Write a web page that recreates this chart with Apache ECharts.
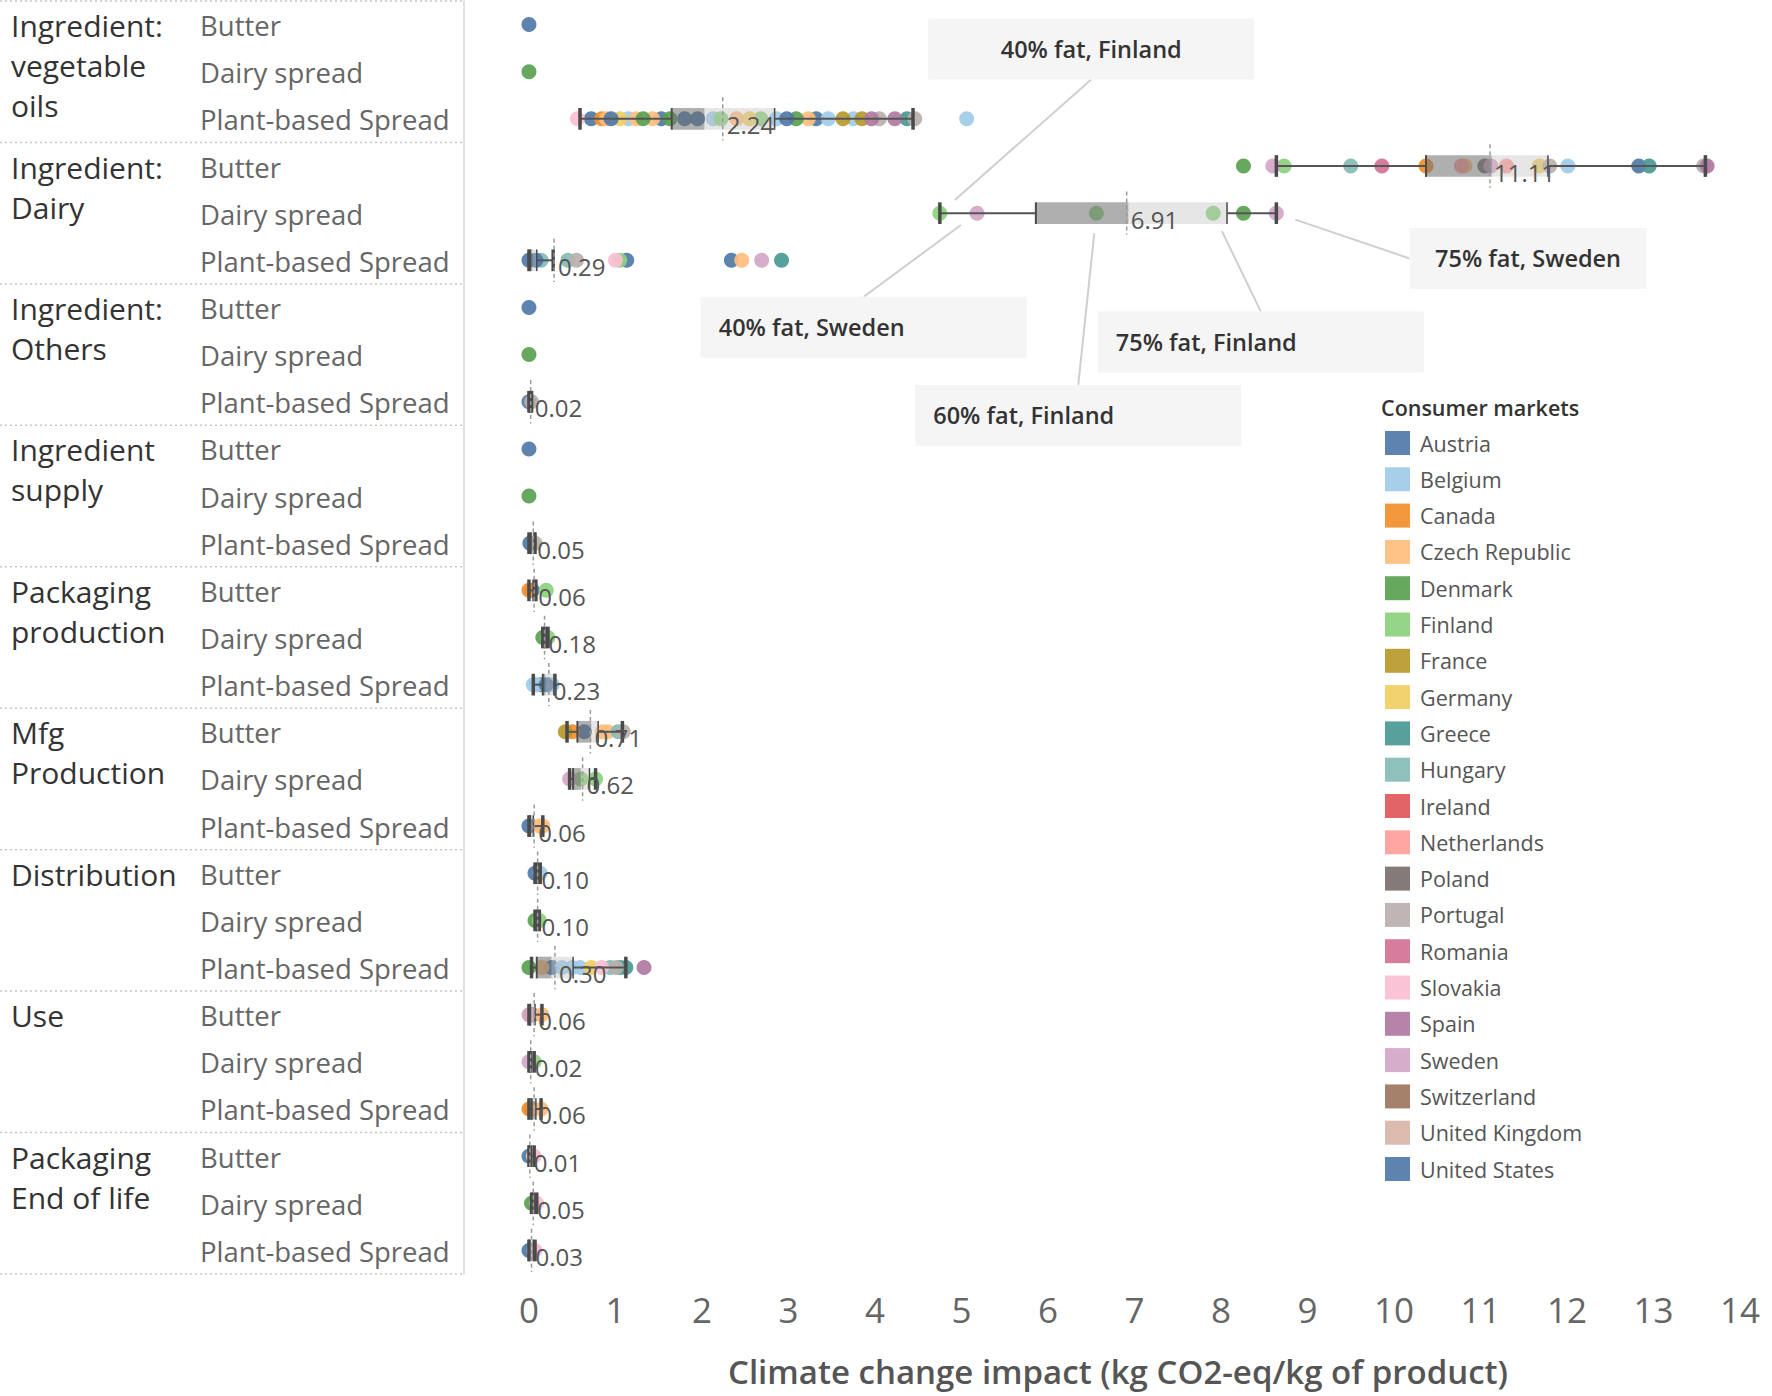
<!DOCTYPE html>
<html>
<head>
<meta charset="utf-8">
<script src="https://cdn.jsdelivr.net/npm/echarts@6/dist/echarts.min.js"></script>
<style>
html,body{margin:0;padding:0;background:#fff;}
#chart{width:1772px;height:1396px;}
</style>
</head>
<body>
<div id="chart"></div>
<script>
// ---------------- DATA ----------------
const groups = ["Ingredient:\nvegetable\noils", "Ingredient:\nDairy", "Ingredient:\nOthers", "Ingredient\nsupply",
  "Packaging\nproduction", "Mfg\nProduction", "Distribution", "Use", "Packaging\nEnd of life"];
const products = ["Butter", "Dairy spread", "Plant-based Spread"];
const xTicks = [0, 1, 2, 3, 4, 5, 6, 7, 8, 9, 10, 11, 12, 13, 14];

const countries = ["Austria", "Belgium", "Canada", "Czech Republic", "Denmark", "Finland", "France", "Germany",
  "Greece", "Hungary", "Ireland", "Netherlands", "Poland", "Portugal", "Romania", "Slovakia", "Spain", "Sweden",
  "Switzerland", "United Kingdom", "United States"];
const countryCodes = ["AT", "BE", "CA", "CZ", "DK", "FI", "FR", "DE", "GR", "HU", "IE", "NL", "PL", "PT", "RO", "SK",
  "ES", "SE", "CH", "GB", "US"];
const countryColors = ["#4e79a7", "#a0cbe8", "#f28e2b", "#ffbe7d", "#59a14f", "#8cd17d", "#b6992d", "#f1ce63",
  "#499894", "#86bcb6", "#e15759", "#ff9d9a", "#79706e", "#bab0ac", "#d37295", "#fabfd2", "#b07aa1", "#d4a6c8",
  "#9d7660", "#d7b5a6", "#4e79a7"];

// dots per group: [Butter, Dairy spread, Plant-based Spread], each a list of [country code, value]
const dotsIngVegOils = [
  [["AT", 0]],
  [["DK", 0]],
  [["SK", 0.56], ["AT", 0.72], ["CA", 0.84], ["CZ", 0.9], ["US", 0.95], ["DE", 1.05], ["BE", 1.15], ["CZ", 1.24],
   ["DK", 1.32], ["CZ", 1.43], ["AT", 1.53], ["DK", 1.63], ["US", 1.8], ["AT", 1.95], ["BE", 2.13], ["FI", 2.22],
   ["CZ", 2.4], ["DE", 2.55], ["FI", 2.68], ["BE", 2.86], ["US", 2.98], ["DK", 3.09], ["CZ", 3.23], ["AT", 3.32],
   ["BE", 3.46], ["FR", 3.63], ["BE", 3.75], ["FR", 3.85], ["ES", 3.96], ["PT", 4.05], ["ES", 4.23], ["GR", 4.37],
   ["PT", 4.46], ["BE", 5.06]]
];
const dotsIngDairy = [
  [["DK", 8.26], ["SE", 8.6], ["FI", 8.73], ["HU", 9.5], ["RO", 9.86], ["CA", 10.37], ["NL", 10.78], ["CZ", 10.82],
   ["PL", 11.05], ["SE", 11.12], ["NL", 11.3], ["DE", 11.68], ["PT", 11.8], ["BE", 12.01], ["AT", 12.83],
   ["GR", 12.95], ["PT", 13.58], ["ES", 13.62]],
  [["FI", 4.75], ["SE", 5.18], ["FI", 6.56], ["FI", 7.91], ["DK", 8.26], ["SE", 8.64]],
  [["AT", 0.0], ["US", 0.08], ["HU", 0.14], ["HU", 0.45], ["PT", 0.55], ["SK", 1.0], ["FI", 1.05], ["AT", 1.13],
   ["AT", 2.34], ["CZ", 2.46], ["SE", 2.69], ["GR", 2.92]]
];
const dotsIngOthers = [[["AT", 0]], [["DK", 0]], [["AT", 0], ["PT", 0.03]]];
const dotsIngSupply = [[["AT", 0]], [["DK", 0]], [["AT", 0.01], ["PT", 0.07]]];
const dotsPackProd = [
  [["CA", 0], ["AT", 0.04], ["FI", 0.2]],
  [["DK", 0.16], ["FI", 0.22]],
  [["BE", 0.05], ["BE", 0.09], ["AT", 0.14], ["US", 0.2], ["BE", 0.27]]
];
const dotsMfg = [
  [["FR", 0.42], ["CA", 0.5], ["AT", 0.64], ["CZ", 0.85], ["CZ", 0.91], ["HU", 1.03], ["PT", 1.09]],
  [["SE", 0.47], ["FI", 0.6], ["FI", 0.77]],
  [["AT", 0], ["CZ", 0.12], ["CZ", 0.16]]
];
const dotsDistribution = [
  [["AT", 0.07], ["BE", 0.13]],
  [["DK", 0.07], ["FI", 0.12]],
  [["DK", 0], ["CZ", 0.15], ["AT", 0.26], ["BE", 0.38], ["BE", 0.5], ["BE", 0.59], ["DE", 0.72], ["SK", 0.84],
   ["HU", 0.94], ["PT", 1.01], ["GR", 1.05], ["GR", 1.12], ["ES", 1.33]]
];
const dotsUse = [
  [["SE", 0], ["CA", 0.01], ["AT", 0.04], ["CZ", 0.15]],
  [["SE", 0], ["FI", 0.06]],
  [["CA", 0], ["AT", 0.03], ["CZ", 0.14]]
];
const dotsPackEol = [
  [["AT", 0], ["CZ", 0.05], ["SK", 0.06]],
  [["DK", 0.03], ["SK", 0.09]],
  [["AT", 0], ["PT", 0.06], ["SK", 0.07]]
];

// box-plot statistics per row (27 rows, null = no box)
const boxLow    = [null, null, 0.59, 8.64, 4.75, 0.0,  null, null, 0.0,  null, null, 0.0,  0.0,  0.16, 0.05, 0.44, 0.47, 0.0,  0.07, 0.07, 0.03, 0.0,  0.0,   0.0,  0.0,  0.03, 0.0];
const boxQ1     = [null, null, 1.65, 10.37, 5.86, 0.01, null, null, 0.0,  null, null, 0.02, 0.05, 0.18, 0.16, 0.56, 0.51, 0.01, 0.09, 0.09, 0.09, 0.01, 0.01,  0.03, 0.0,  0.04, 0.0];
const boxMedian = [null, null, 2.03, 11.13, 6.93, 0.04, null, null, 0.01, null, null, 0.04, 0.06, 0.19, 0.19, 0.72, 0.6,  0.03, 0.1,  0.1,  0.26, 0.03, 0.015, 0.05, 0.01, 0.05, 0.02];
const boxQ3     = [null, null, 2.84, 11.78, 8.07, 0.09, null, null, 0.03, null, null, 0.07, 0.08, 0.2,  0.3,  0.8,  0.7,  0.05, 0.11, 0.11, 0.51, 0.07, 0.03,  0.08, 0.03, 0.06, 0.05];
const boxHigh   = [null, null, 4.44, 13.6, 8.64, 0.28, null, null, 0.03, null, null, 0.07, 0.08, 0.22, 0.3,  1.08, 0.77, 0.16, 0.13, 0.12, 1.12, 0.15, 0.06,  0.14, 0.06, 0.09, 0.07];
const boxMean   = [null, null, 2.24, 11.11, 6.91, 0.29, null, null, 0.02, null, null, 0.05, 0.06, 0.18, 0.23, 0.71, 0.62, 0.06, 0.10, 0.10, 0.30, 0.06, 0.02,  0.06, 0.01, 0.05, 0.03];

// annotations (target point and callout centre, in data units: value, row)
const annoText = ["40% fat, Finland", "75% fat, Sweden", "40% fat, Sweden", "75% fat, Finland", "60% fat, Finland"];
const annoTargetValue = [4.75, 8.64, 5.18, 7.91, 6.56];
const annoTargetRow = [4, 4, 4, 4, 4];
const annoBoxValue = [6.50, 11.55, 3.87, 8.46, 6.35];
const annoBoxRow = [0.52, 4.96, 6.42, 6.73, 8.29];

// ---------------- LAYOUT / STYLE ----------------
const FONT = "'Open Sans', 'Noto Sans', sans-serif";
const ANNO_W = [326, 237, 326, 326, 326];
const ANNO_H = 61;
const ANNO_ALIGN = ["center", "center", "left", "left", "left"];

const rowIds = [];
groups.forEach((g, gi) => products.forEach((p, pi) => rowIds.push(gi + "|" + p)));

const allDotGroups = [dotsIngVegOils, dotsIngDairy, dotsIngOthers, dotsIngSupply, dotsPackProd, dotsMfg,
  dotsDistribution, dotsUse, dotsPackEol];
const dotsByCode = {};
allDotGroups.forEach((grp, g) => grp.forEach((list, p) => list.forEach(([code, v]) => {
  (dotsByCode[code] = dotsByCode[code] || []).push([v, g * 3 + p]);
})));

const scatterSeries = countries.map((name, i) => ({
  name: name,
  type: 'scatter',
  xAxisIndex: 0, yAxisIndex: 0,
  data: dotsByCode[countryCodes[i]] || [],
  symbol: 'circle',
  symbolSize: 15,
  itemStyle: { color: countryColors[i], opacity: 0.92 },
  z: 2,
  silent: true,
  emphasis: { disabled: true }
}));

const boxData = [];
for (let r = 0; r < rowIds.length; r++) {
  if (boxMean[r] != null) boxData.push([r, boxLow[r], boxQ1[r], boxMedian[r], boxQ3[r], boxHigh[r], boxMean[r]]);
}

function renderBox(params, api) {
  const row = api.value(0);
  const X = v => api.coord([v, row])[0];
  const y = api.coord([0, row])[1];
  const band = api.size([0, 1])[1];
  const hb = band * 0.23;
  const lo = X(api.value(1)), q1 = X(api.value(2)), md = X(api.value(3)), q3 = X(api.value(4)), hi = X(api.value(5));
  const mean = api.value(6), mx = X(mean);
  const dark = '#4a4a4a';
  return {
    type: 'group',
    children: [
      { type: 'line', shape: { x1: lo, y1: y, x2: q1, y2: y }, style: { stroke: '#555', lineWidth: 2 } },
      { type: 'line', shape: { x1: q3, y1: y, x2: hi, y2: y }, style: { stroke: '#555', lineWidth: 2 } },
      { type: 'rect', shape: { x: q1, y: y - hb, width: Math.max(md - q1, 0), height: 2 * hb }, style: { fill: 'rgba(110,110,110,0.55)' } },
      { type: 'rect', shape: { x: md, y: y - hb, width: Math.max(q3 - md, 0), height: 2 * hb }, style: { fill: 'rgba(190,190,190,0.38)' } },
      { type: 'line', shape: { x1: q1, y1: y - hb, x2: q1, y2: y + hb }, style: { stroke: dark, lineWidth: 2 } },
      { type: 'line', shape: { x1: q3, y1: y - hb, x2: q3, y2: y + hb }, style: { stroke: dark, lineWidth: 1.5 } },
      { type: 'rect', shape: { x: lo - 1.75, y: y - hb, width: 3.5, height: 2 * hb }, style: { fill: dark } },
      { type: 'rect', shape: { x: hi - 1.75, y: y - hb, width: 3.5, height: 2 * hb }, style: { fill: dark } },
      { type: 'line', shape: { x1: mx, y1: y - band * 0.46, x2: mx, y2: y + band * 0.46 },
        style: { stroke: '#9a9a9a', lineWidth: 1.5, lineDash: [4, 3] } },
      { type: 'text', style: { text: mean.toFixed(2), x: mx + 4, y: y + 6, fill: '#555', fontSize: 24,
        fontFamily: FONT, align: 'left', verticalAlign: 'middle' } }
    ]
  };
}

function renderPanel(params, api) {
  const r = api.value(1);
  const y = api.coord([0, r])[1];
  const band = api.size([0, 1])[1];
  const cs = params.coordSys;
  const children = [
    { type: 'text', style: { text: products[r % 3], x: cs.x + 200, y: y + 1, fill: '#666', fontSize: 27.5,
      fontFamily: FONT, align: 'left', verticalAlign: 'middle' } }
  ];
  if (r % 3 === 0) {
    children.push({ type: 'text', style: { text: groups[r / 3], x: cs.x + 11, y: y - 19, fill: '#333', fontSize: 30,
      lineHeight: 40, fontFamily: FONT, align: 'left', verticalAlign: 'top' } });
    children.push({ type: 'line', shape: { x1: cs.x, y1: y - band / 2, x2: cs.x + cs.width, y2: y - band / 2 },
      style: { stroke: '#c6c6c6', lineWidth: 1.5, lineDash: [2, 3] } });
  }
  if (r === rowIds.length - 1) {
    children.push({ type: 'line', shape: { x1: cs.x, y1: y + band / 2, x2: cs.x + cs.width, y2: y + band / 2 },
      style: { stroke: '#c6c6c6', lineWidth: 1.5, lineDash: [2, 3] } });
  }
  return { type: 'group', children: children };
}

function renderAnno(params, api) {
  const i = params.dataIndex;
  const p = api.coord([annoTargetValue[i], annoTargetRow[i]]);
  const band = api.size([0, 1])[1];
  const y0 = api.coord([0, 0])[1];
  const bx = api.coord([annoBoxValue[i], 0])[0];
  const by = y0 + annoBoxRow[i] * band;
  const w = ANNO_W[i], h = ANNO_H;
  let ax, ay;
  if (p[0] < bx - w / 2) { ax = bx - w / 2; ay = by; }
  else if (p[0] > bx + w / 2) { ax = bx + w / 2; ay = by; }
  else if (p[1] > by) { ax = bx; ay = by + h / 2; }
  else { ax = bx; ay = by - h / 2; }
  const dx = p[0] - ax, dy = p[1] - ay, d = Math.hypot(dx, dy);
  const ex = p[0] - dx / d * 20, ey = p[1] - dy / d * 20;
  const left = ANNO_ALIGN[i] === 'left';
  return {
    type: 'group',
    children: [
      { type: 'line', shape: { x1: ax, y1: ay, x2: ex, y2: ey }, style: { stroke: '#cfcfcf', lineWidth: 2 } },
      { type: 'rect', shape: { x: bx - w / 2, y: by - h / 2, width: w, height: h }, style: { fill: '#f5f5f5' } },
      { type: 'text', style: { text: annoText[i], x: left ? bx - w / 2 + 18 : bx, y: by, fill: '#333',
        fontSize: 23.5, fontWeight: 600, fontFamily: FONT, align: left ? 'left' : 'center', verticalAlign: 'middle' } }
    ]
  };
}

const chart = echarts.init(document.getElementById('chart'), null, { renderer: 'svg', width: 1772, height: 1396 });

chart.setOption({
  animation: false,
  backgroundColor: '#ffffff',
  textStyle: { fontFamily: FONT },
  title: {
    text: 'Consumer markets',
    left: 1381, top: 396, padding: 0,
    textStyle: { fontSize: 21.5, fontWeight: 600, color: '#333', fontFamily: FONT }
  },
  legend: {
    data: countries,
    orient: 'vertical',
    left: 1385, top: 431, padding: 0,
    itemWidth: 25, itemHeight: 24, itemGap: 12.3,
    icon: 'rect',
    selectedMode: false,
    textStyle: { fontSize: 21.5, color: '#555', fontFamily: FONT, lineHeight: 24, padding: [0, 0, 0, 5] }
  },
  grid: [
    { left: 464, right: 0, top: 1, bottom: 122 },
    { left: 0, width: 463, top: 1, bottom: 122 }
  ],
  xAxis: [
    {
      type: 'value', gridIndex: 0, min: -0.751, max: 14.37,
      name: 'Climate change impact (kg CO2-eq/kg of product)',
      nameLocation: 'middle', nameGap: 81,
      nameTextStyle: { fontSize: 33, fontWeight: 600, color: '#555', fontFamily: FONT },
      axisLine: { show: false }, axisTick: { show: false, customValues: xTicks }, splitLine: { show: false },
      axisLabel: { customValues: xTicks, fontSize: 35, color: '#666', margin: 18, fontFamily: FONT }
    },
    { type: 'value', gridIndex: 1, min: 0, max: 1, show: false }
  ],
  yAxis: [
    {
      type: 'category', gridIndex: 0, data: rowIds, inverse: true,
      axisLabel: { show: false }, axisTick: { show: false }, splitLine: { show: false },
      axisLine: { show: true, onZero: false, lineStyle: { color: '#d6d6d6', width: 1.5 } }
    },
    {
      type: 'category', gridIndex: 1, data: rowIds, inverse: true, show: false
    }
  ],
  series: [
    {
      type: 'custom', name: 'panel', xAxisIndex: 1, yAxisIndex: 1,
      data: rowIds.map((_, r) => [0, r]), encode: { x: 0, y: 1 },
      silent: true, renderItem: renderPanel
    },
    ...scatterSeries,
    {
      type: 'custom', name: 'box', xAxisIndex: 0, yAxisIndex: 0,
      data: boxData, encode: { y: 0, x: [1, 2, 3, 4, 5, 6] },
      z: 3, silent: true, renderItem: renderBox
    },
    {
      type: 'custom', name: 'annotations', xAxisIndex: 0, yAxisIndex: 0,
      data: annoText.map((t, i) => [annoTargetValue[i], annoTargetRow[i]]), encode: { x: 0, y: 1 },
      z: 5, silent: true, renderItem: renderAnno
    }
  ]
});
</script>
</body>
</html>
